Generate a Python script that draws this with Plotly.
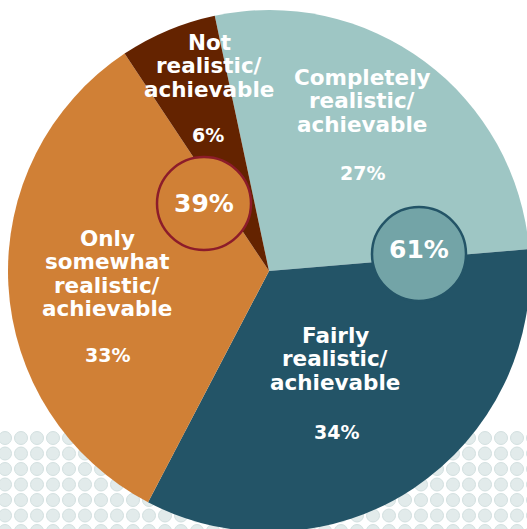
import numpy as np
import plotly.graph_objects as go

# ---- data ----
categories = ["Completely realistic/achievable", "Fairly realistic/achievable",
              "Only somewhat realistic/achievable", "Not realistic/achievable"]
values = [27, 34, 33, 6]
colors = ["#9ec6c4", "#235467", "#d08036", "#642300"]
label_lines = [["Completely", "realistic/", "achievable"],
               ["Fairly", "realistic/", "achievable"],
               ["Only", "somewhat", "realistic/", "achievable"],
               ["Not", "realistic/", "achievable"]]
pct_labels = ["27%", "34%", "33%", "6%"]
group_labels = ["61%", "39%"]

# figure is a bit larger than the 527x529 window so the pie is cropped at right/bottom
W, H = 540, 545
CX, CY, R = 269, 271, 261

fig = go.Figure()

# dotted background pattern (decoration)
gx = np.arange(5, W + 16, 16)
gy = np.arange(438, H + 16, 15.5)
GX, GY = np.meshgrid(gx, gy)
fig.add_trace(go.Scatter(x=GX.ravel(), y=GY.ravel(), mode="markers",
                         marker=dict(size=13, color="#e2ebeb",
                                     line=dict(color="#d3e0e0", width=1)),
                         hoverinfo="skip", showlegend=False))

fig.add_trace(go.Pie(labels=categories, values=values, sort=False,
                     direction="clockwise", rotation=-12,
                     marker=dict(colors=colors, line=dict(width=0)),
                     textinfo="none", hoverinfo="label+percent",
                     showlegend=False,
                     domain=dict(x=[(CX - R) / W, (CX + R) / W],
                                 y=[(H - CY - R) / H, (H - CY + R) / H])))

# group circles
fig.add_shape(type="circle", x0=157, x1=251, y0=157, y1=250, xref="x", yref="y",
              fillcolor="#d08036", line=dict(color="#8c1c2a", width=2.5), layer="above")
fig.add_shape(type="circle", x0=372, x1=466, y0=207, y1=301, xref="x", yref="y",
              fillcolor="#73a4a7", line=dict(color="#235467", width=2.5), layer="above")

FONT = "DejaVu Sans"
label_pos = [(362, 77), (335, 335), (107, 238), (209, 42)]
pct_pos = [(362, 173), (336, 432), (107, 355), (208, 135)]
STEP = 23.5
for lines, (lx, ly), pct, (px, py) in zip(label_lines, label_pos, pct_labels, pct_pos):
    for i, t in enumerate(lines):
        fig.add_annotation(x=lx, y=ly + i * STEP, text=f"<b>{t}</b>", showarrow=False,
                           xref="x", yref="y",
                           font=dict(family=FONT, size=21.5, color="white"))
    fig.add_annotation(x=px, y=py, text=f"<b>{pct}</b>", showarrow=False,
                       xref="x", yref="y",
                       font=dict(family=FONT, size=19, color="white"))

for t, (gx_, gy_) in zip(group_labels, [(419, 249), (204, 203)]):
    fig.add_annotation(x=gx_, y=gy_, text=f"<b>{t}</b>", showarrow=False,
                       xref="x", yref="y",
                       font=dict(family=FONT, size=25, color="white"))

fig.update_xaxes(range=[0, W], visible=False, fixedrange=True)
fig.update_yaxes(range=[H, 0], visible=False, fixedrange=True)
fig.update_layout(width=W, height=H, margin=dict(l=0, r=0, t=0, b=0),
                  paper_bgcolor="white", plot_bgcolor="white", showlegend=False)

fig.write_html("out.html", config={"displayModeBar": False},
               post_script="document.body.style.margin='0';document.body.style.overflow='hidden';")
